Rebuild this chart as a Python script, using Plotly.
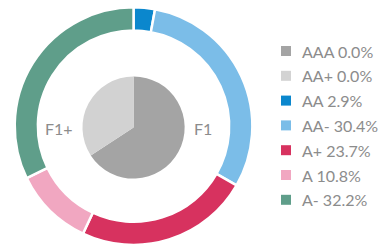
import plotly.graph_objects as go

# ---- data ----
ratings = ["AAA", "AA+", "AA", "AA-", "A+", "A", "A-"]
shares = [0.0, 0.0, 2.9, 30.4, 23.7, 10.8, 32.2]
rating_colors = ["#a4a4a4", "#d3d3d3", "#0b87cd", "#7bbde8", "#d7325f", "#f1a7c1", "#5f9e8a"]

inner_labels = ["F1", "F1+"]
inner_values = [65.8, 34.2]
inner_colors = ["#a4a4a4", "#d2d2d2"]

W, H = 380, 245
TXT = "#8c8c8c"
FONT = "Lato, 'Open Sans', 'DejaVu Sans', sans-serif"

fig = go.Figure()

# outer ring (non-zero slices only are drawn)
o_lab = [l for l, v in zip(ratings, shares) if v > 0]
o_val = [v for v in shares if v > 0]
o_col = [c for c, v in zip(rating_colors, shares) if v > 0]
fig.add_trace(go.Pie(
    labels=o_lab, values=o_val, hole=0.805, sort=False, direction="clockwise",
    rotation=0, textinfo="none", hoverinfo="label+value",
    marker=dict(colors=o_col, line=dict(color="white", width=2.5)),
    domain=dict(x=[0.0368, 0.666], y=[0.0, 0.97]), showlegend=False,
))

# inner pie
fig.add_trace(go.Pie(
    labels=inner_labels, values=inner_values, sort=False, direction="clockwise",
    rotation=0, textinfo="none", hoverinfo="label+value",
    marker=dict(colors=inner_colors, line=dict(width=0)),
    domain=dict(x=[0.217, 0.486], y=[0.271, 0.688]), showlegend=False,
))

ann = []
# inner labels
ann.append(dict(x=203 / W, y=1 - 128 / H, xref="paper", yref="paper", text="F1",
                showarrow=False, xanchor="center", yanchor="middle",
                font=dict(size=16, color=TXT, family=FONT)))
ann.append(dict(x=59 / W, y=1 - 128 / H, xref="paper", yref="paper", text="F1+",
                showarrow=False, xanchor="center", yanchor="middle",
                font=dict(size=16, color=TXT, family=FONT)))

# custom legend
shapes = []
y0, dy = 51, 24.8
for i, (lab, val, col) in enumerate(zip(ratings, shares, rating_colors)):
    yc = y0 + dy * i
    shapes.append(dict(type="rect", xref="paper", yref="paper",
                       x0=281 / W, x1=291 / W, y0=1 - (yc + 5) / H, y1=1 - (yc - 5) / H,
                       fillcolor=col, line=dict(width=0)))
    ann.append(dict(x=300 / W, y=1 - yc / H, xref="paper", yref="paper",
                    text=f"{lab} {val:.1f}%", showarrow=False,
                    xanchor="left", yanchor="middle",
                    font=dict(size=16, color=TXT, family=FONT)))

fig.update_layout(
    width=W, height=H, margin=dict(l=0, r=0, t=0, b=0),
    paper_bgcolor="white", plot_bgcolor="white",
    annotations=ann, shapes=shapes, showlegend=False,
)

fig.write_html(
    "out.html",
    config={"displayModeBar": False},
    post_script="document.body.style.margin='0';document.body.style.overflow='hidden';",
)
